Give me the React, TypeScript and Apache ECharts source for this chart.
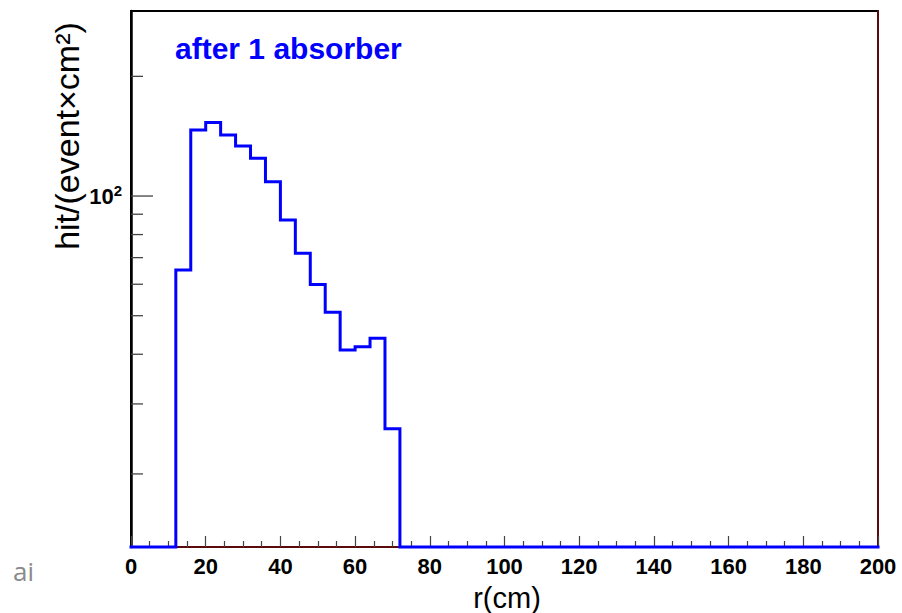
import React, { useEffect, useRef } from "react";
import * as echarts from "echarts";

// ---- data ----
const X_MIN = 0;
const X_MAX = 200;
const Y_MIN = 13.1;
const Y_MAX = 292;

// low edges of the 4 cm bins in r (cm)
const binLowEdges = [
  0, 4, 8, 12, 16, 20, 24, 28, 32, 36, 40, 44, 48, 52, 56, 60, 64, 68, 72, 76,
  80, 84, 88, 92, 96, 100, 104, 108, 112, 116, 120, 124, 128, 132, 136, 140,
  144, 148, 152, 156, 160, 164, 168, 172, 176, 180, 184, 188, 192, 196,
];
// hit/(event x cm^2) per bin
const hitValues = [
  0, 0, 0, 65.2, 146.6, 153, 142.3, 133.7, 124.4, 108.6, 87.0, 71.8, 59.9,
  51.0, 41.0, 41.8, 43.9, 26.0, 0, 0, 0, 0, 0, 0, 0, 0, 0, 0, 0, 0, 0, 0, 0, 0,
  0, 0, 0, 0, 0, 0, 0, 0, 0, 0, 0, 0, 0, 0, 0, 0,
];
const yMajorTicks = [100];
const yMinorTicks = [20, 30, 40, 50, 60, 70, 80, 90, 200];
const titleText = "after 1 absorber";
const xTitle = "r(cm)";
const yTitle = "hit/(event\u00d7cm\u00b2)";

const FONT = "'Liberation Sans', Arial, Helvetica, sans-serif";

export default function App() {
  const ref = useRef<HTMLDivElement>(null);

  useEffect(() => {
    if (!ref.current) return;
    const chart = echarts.init(ref.current, undefined, { renderer: "svg" });

    // histogram outline: zero bins are drawn on the axis floor, like ROOT does
    const stepPoints: number[][] = binLowEdges.map((x, i) => [
      x,
      hitValues[i] > 0 ? hitValues[i] : Y_MIN,
    ]);
    const lastVal = hitValues[hitValues.length - 1];
    stepPoints.push([X_MAX, lastVal > 0 ? lastVal : Y_MIN]);

    const tickData = [
      ...yMajorTicks.map((v) => [X_MIN, v, 1]),
      ...yMinorTicks.map((v) => [X_MIN, v, 0]),
    ];

    chart.setOption({
      animation: false,
      backgroundColor: "#ffffff",
      grid: {
        left: 131,
        right: 24,
        top: 11,
        bottom: 66,
        show: true,
        borderColor: "#000000",
        borderWidth: 2,
        backgroundColor: "transparent",
      },
      xAxis: {
        type: "value",
        min: X_MIN,
        max: X_MAX,
        interval: 20,
        axisLine: { show: true, lineStyle: { color: "#5a0a0a", width: 2 } },
        axisTick: {
          show: true,
          inside: true,
          length: 11,
          lineStyle: { color: "#444", width: 1.2 },
        },
        minorTick: {
          show: true,
          splitNumber: 4,
          length: 6,
          lineStyle: { color: "#444", width: 1.2 },
        },
        splitLine: { show: false },
        axisLabel: {
          color: "#000",
          fontFamily: FONT,
          fontSize: 22,
          fontWeight: "bold",
          margin: 8,
        },
      },
      yAxis: [
        {
          type: "log",
          logBase: 10,
          min: Y_MIN,
          max: Y_MAX,
          axisLine: { show: true, lineStyle: { color: "#000", width: 2.5 } },
          axisTick: { show: false },
          splitLine: { show: false },
          axisLabel: {
            showMinLabel: false,
            showMaxLabel: false,
            margin: 9,
            formatter: (v: number) => {
              const e = Math.log10(v);
              return Math.abs(e - Math.round(e)) < 1e-6
                ? `{b|10}{s|${Math.round(e)}}`
                : "";
            },
            rich: {
              b: {
                color: "#000",
                fontFamily: FONT,
                fontSize: 22,
                fontWeight: "bold",
              },
              s: {
                color: "#000",
                fontFamily: FONT,
                fontSize: 15,
                fontWeight: "bold",
                padding: [0, 0, 12, 0],
              },
            },
          },
        },
        {
          type: "log",
          logBase: 10,
          min: Y_MIN,
          max: Y_MAX,
          position: "right",
          axisLine: { show: true, lineStyle: { color: "#5a0a0a", width: 2 } },
          axisTick: { show: false },
          axisLabel: { show: false },
          splitLine: { show: false },
        },
      ],
      series: [
        {
          type: "custom",
          coordinateSystem: "cartesian2d",
          silent: true,
          clip: false,
          z: 3,
          data: tickData,
          renderItem: (params: any, api: any) => {
            const p = api.coord([api.value(0), api.value(1)]);
            const len = api.value(2) === 1 ? 22 : 12;
            return {
              type: "line",
              shape: { x1: p[0], y1: p[1], x2: p[0] + len, y2: p[1] },
              style: { stroke: "#444", lineWidth: 1.3 },
            };
          },
        },
        {
          type: "line",
          step: "end",
          data: stepPoints,
          showSymbol: false,
          symbol: "none",
          clip: false,
          z: 5,
          lineStyle: { color: "#0000ff", width: 3, join: "miter", cap: "square" },
        },
      ],
      graphic: [
        {
          type: "text",
          left: 175,
          top: 33,
          style: {
            text: titleText,
            fill: "#0000ff",
            font: `bold 30px ${FONT}`,
          },
        },
        {
          type: "text",
          x: 67,
          y: 136,
          rotation: Math.PI / 2,
          style: {
            text: yTitle,
            fill: "#000",
            font: `34px ${FONT}`,
            align: "center",
            verticalAlign: "middle",
          },
        },
        {
          type: "text",
          x: 507,
          y: 598,
          style: {
            text: xTitle,
            fill: "#000",
            font: `29px ${FONT}`,
            align: "center",
            verticalAlign: "middle",
          },
        },
        {
          type: "text",
          x: 13,
          y: 571,
          style: {
            text: "ai",
            fill: "#8a8a8a",
            font: `26px 'Open Sans', sans-serif`,
            align: "left",
            verticalAlign: "middle",
          },
        },
      ],
    });

    return () => chart.dispose();
  }, []);

  return (
    <div
      ref={ref}
      style={{ width: 902, height: 613, position: "absolute", left: 0, top: 0 }}
    />
  );
}
